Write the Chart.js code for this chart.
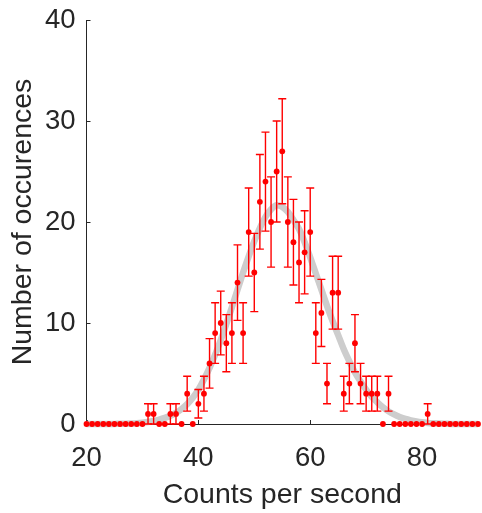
<!DOCTYPE html>
<html>
<head>
<meta charset="utf-8">
<script src="https://cdn.jsdelivr.net/npm/chart.js@4.4.0/dist/chart.umd.min.js"></script>
<style>
    html, body { margin: 0; padding: 0; background: #ffffff; }
    #wrap { width: 482px; height: 513px; }
</style>
</head>
<body>
<div id="wrap"><canvas id="histChart" width="482" height="513"></canvas></div>
<script>
// Counts per second (one bin per integer)
const countsPerSecond = [
    20, 21, 22, 23, 24, 25, 26, 27, 28, 29, 30, 31, 32, 33, 34, 35, 36, 37, 38, 39,
    40, 41, 42, 43, 44, 45, 46, 47, 48, 49, 50, 51, 52, 53, 54, 55, 56, 57, 58, 59,
    60, 61, 62, 63, 64, 65, 66, 67, 68, 69, 70, 71, 72, 73, 74, 75, 76, 77, 78, 79,
    80, 81, 82, 83, 84, 85, 86, 87, 88, 89, 90
];

// Number of occurences in each bin
const occurences = [
    0, 0, 0, 0, 0, 0, 0, 0, 0, 0, 0, 1, 1, 0, 0, 1, 1, 0, 3, 0,
    2, 3, 6, 9, 10, 8, 9, 14, 9, 19, 15, 22, 24, 20, 25, 27, 20, 18, 16, 17,
    19, 9, 11, 4, 13, 13, 3, 4, 8, 4, 3, 3, 3, 0, 3, 0, 0, 0, 0, 0,
    0, 1, 0, 0, 0, 0, 0, 0, 0, 0, 0
];

// Error bar half lengths (square root of the count)
const occurenceErrors = [
    0, 0, 0, 0, 0, 0, 0, 0, 0, 0, 0, 1, 1, 0, 0, 1, 1, 0, 1.73, 0,
    1.41, 1.73, 2.45, 3, 3.16, 2.83, 3, 3.74, 3, 4.36, 3.87, 4.69, 4.9, 4.47, 5, 5.2, 4.47, 4.24, 4, 4.12,
    4.36, 3, 3.32, 2, 3.61, 3.61, 1.73, 2, 2.83, 2, 1.73, 1.73, 1.73, 0, 1.73, 0, 0, 0, 0, 0,
    0, 1, 0, 0, 0, 0, 0, 0, 0, 0, 0
];

// Grey expected distribution
const expectedCurve = [
    0, 0, 0, 0, 0, 0.01, 0.02, 0.03, 0.05, 0.08, 0.13, 0.2, 0.3, 0.43, 0.6, 0.82, 1.1, 1.48, 1.97, 2.6,
    3.4, 4.4, 5.55, 6.85, 8.3, 9.9, 11.55, 13.3, 15.0, 16.6, 18.1, 19.4, 20.5, 21.25, 21.65, 21.5, 21.0, 20.2, 19.3, 18.0,
    16.5, 14.9, 13.3, 11.7, 10.2, 8.8, 7.4, 6.2, 5.1, 4.2, 3.4, 2.7, 2.15, 1.65, 1.25, 0.95, 0.7, 0.5, 0.36, 0.25,
    0.17, 0.11, 0.07, 0.04, 0.02, 0.01, 0, 0, 0, 0, 0
];

const xTickValues = [20, 40, 60, 80];
const yTickValues = [0, 10, 20, 30, 40];

const axisColor = '#262626';
const fontFamily = "'Liberation Sans', Arial, sans-serif";

// Draw the error bars right after the grey curve, so the dots land on top
const errorBarPlugin = {
    id: 'errorBars',
    afterDatasetDraw(chart, args) {
        if (args.index !== 0) return;
        const xs = chart.scales.x;
        const ys = chart.scales.y;
        const c = chart.ctx;
        c.save();
        c.strokeStyle = '#ff0000';
        c.lineWidth = 1.4;
        occurences.forEach((n, i) => {
            const err = occurenceErrors[i];
            if (!err) return;
            const px = xs.getPixelForValue(countsPerSecond[i]);
            const top = ys.getPixelForValue(n + err);
            const bot = ys.getPixelForValue(n - err);
            c.beginPath();
            c.moveTo(px, top);
            c.lineTo(px, bot);
            c.moveTo(px - 4, top);
            c.lineTo(px + 4, top);
            c.moveTo(px - 4, bot);
            c.lineTo(px + 4, bot);
            c.stroke();
        });
        c.restore();
    }
};

// Tick marks pointing into the plot, like the original
const innerTicksPlugin = {
    id: 'innerTicks',
    beforeDatasetsDraw(chart) {
        const xs = chart.scales.x;
        const ys = chart.scales.y;
        const area = chart.chartArea;
        const c = chart.ctx;
        c.save();
        c.strokeStyle = axisColor;
        c.lineWidth = 1;
        c.beginPath();
        xTickValues.forEach(v => {
            const px = Math.round(xs.getPixelForValue(v)) + 0.5;
            c.moveTo(px, area.bottom);
            c.lineTo(px, area.bottom - 4);
        });
        yTickValues.forEach(v => {
            const py = Math.round(ys.getPixelForValue(v)) + 0.5;
            c.moveTo(area.left, py);
            c.lineTo(area.left + 4, py);
        });
        c.stroke();
        c.restore();
    }
};

const ctx = document.getElementById('histChart').getContext('2d');

new Chart(ctx, {
    type: 'scatter',
    data: {
        datasets: [{
            type: 'line',
            label: 'Expected',
            data: countsPerSecond.map((x, i) => ({ x: x, y: expectedCurve[i] })),
            borderColor: '#cdcdcd',
            borderWidth: 6.5,
            pointRadius: 0,
            cubicInterpolationMode: 'monotone',
            fill: false,
            clip: false,
            order: 2
        }, {
            label: 'Measured',
            data: countsPerSecond.map((x, i) => ({ x: x, y: occurences[i] })),
            backgroundColor: '#ff0000',
            borderColor: '#ff0000',
            borderWidth: 0,
            pointRadius: 2.9,
            showLine: false,
            clip: false,
            order: 1
        }]
    },
    options: {
        responsive: false,
        devicePixelRatio: 1,
        animation: false,
        layout: {
            padding: { top: 20, right: 2, left: 0, bottom: 0 }
        },
        plugins: {
            legend: { display: false },
            tooltip: { enabled: false }
        },
        scales: {
            x: {
                type: 'linear',
                min: 20,
                max: 90,
                afterBuildTicks: scale => { scale.ticks = xTickValues.map(v => ({ value: v })); },
                afterFit: scale => {
                    scale.height = 89;
                    scale.paddingLeft = 0;
                    scale.paddingRight = 0;
                },
                grid: { display: false, drawTicks: false },
                border: { display: true, color: axisColor, width: 1 },
                ticks: {
                    color: axisColor,
                    font: { family: fontFamily, size: 27.5 },
                    padding: 18,
                    maxRotation: 0
                },
                title: {
                    display: true,
                    text: 'Counts per second',
                    color: axisColor,
                    font: { family: fontFamily, size: 28.5 },
                    padding: { top: 0, bottom: 1 }
                }
            },
            y: {
                type: 'linear',
                min: 0,
                max: 40,
                afterBuildTicks: scale => { scale.ticks = yTickValues.map(v => ({ value: v })); },
                afterFit: scale => {
                    scale.width = 86.5;
                    scale.paddingTop = 0;
                    scale.paddingBottom = 0;
                },
                grid: { display: false, drawTicks: false },
                border: { display: true, color: axisColor, width: 1 },
                ticks: {
                    color: axisColor,
                    font: { family: fontFamily, size: 27.5 },
                    padding: 11
                },
                title: {
                    display: true,
                    text: 'Number of occurences',
                    color: axisColor,
                    font: { family: fontFamily, size: 28.5 },
                    padding: { top: 6, bottom: 0 }
                }
            }
        }
    },
    plugins: [errorBarPlugin, innerTicksPlugin]
});
</script>
</body>
</html>
